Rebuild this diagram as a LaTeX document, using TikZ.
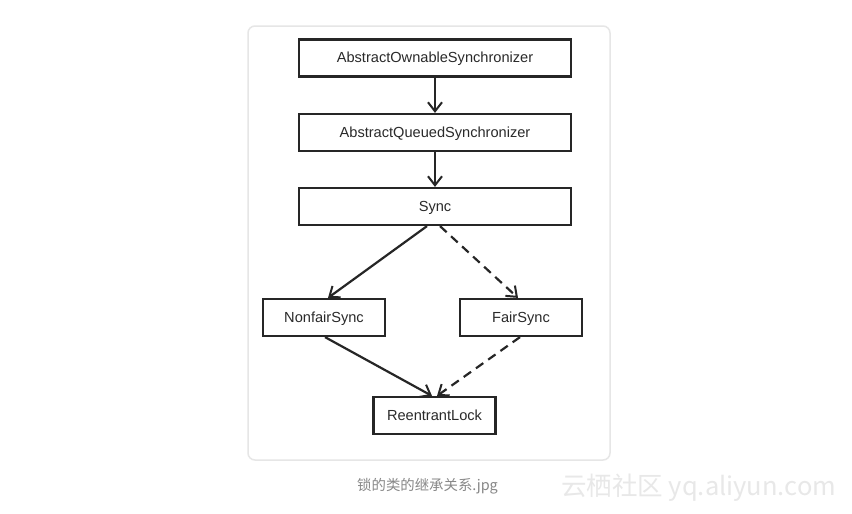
\documentclass[tikz,border=0pt]{standalone}
\usepackage{fontspec}
\setmainfont{Liberation Sans}
\newfontfamily\cjk{Noto Sans CJK SC}
\usetikzlibrary{arrows.meta}
\definecolor{boxtext}{HTML}{2A2A2A}
\definecolor{cardline}{HTML}{E6E6E6}
\definecolor{captext}{HTML}{888888}
\definecolor{wmark}{HTML}{E8E8E8}
\tikzset{
  cls/.style={draw=black!85, line width=2.2pt, fill=white, minimum height=37pt, inner sep=0pt,
    text height=10.5pt, text depth=1.5pt,
    text=boxtext, font=\fontsize{14.6}{16}\selectfont},
  wide/.style={cls, minimum width=272pt},
  narrow/.style={cls, minimum width=122pt},
  link/.style={draw=black!85, line width=2.2pt, -{Straight Barb[length=9pt,width=14pt,line width=2pt]}},
  dlink/.style={link, dash pattern=on 9pt off 6pt},
}
\begin{document}
\begin{tikzpicture}[x=1pt,y=-1pt]
\useasboundingbox (0,0) rectangle (852,514);
\fill[white] (0,0) rectangle (852,514);
\draw[cardline, line width=1.5pt, rounded corners=7pt] (248,26) rectangle (610,460);
\node[wide] (aos) at (435,58) {AbstractOwnableSynchronizer};
\node[wide] (aqs) at (435,132.5) {AbstractQueuedSynchronizer};
\node[wide] (sync) at (435,206.5) {Sync};
\node[narrow] (nonfair) at (324,317.5) {NonfairSync};
\node[narrow] (fair) at (521,317.5) {FairSync};
\node[narrow] (reent) at (434.5,415.5) {ReentrantLock};
\draw[link] (aos) -- (aqs);
\draw[link] (aqs) -- (sync);
\draw[link] ([xshift=-8pt]sync.south) -- ([xshift=4pt]nonfair.north);
\draw[dlink] ([xshift=5pt]sync.south) -- ([xshift=-3pt]fair.north);
\draw[link] ([xshift=1pt]nonfair.south) -- ([xshift=-2.5pt]reent.north);
\draw[dlink] ([xshift=-1pt]fair.south) -- ([xshift=2.5pt]reent.north);
\node[anchor=west, text=captext, font=\cjk\fontsize{14.4}{16}\selectfont, inner sep=0pt] (cap) at (357,486) {锁的类的继承关系.jpg};
\node[anchor=west, text=wmark, font=\cjk\fontsize{25.5}{28}\selectfont, inner sep=0pt] (wm) at (561,488) {云栖社区 yq.aliyun.com};
\end{tikzpicture}
\end{document}
